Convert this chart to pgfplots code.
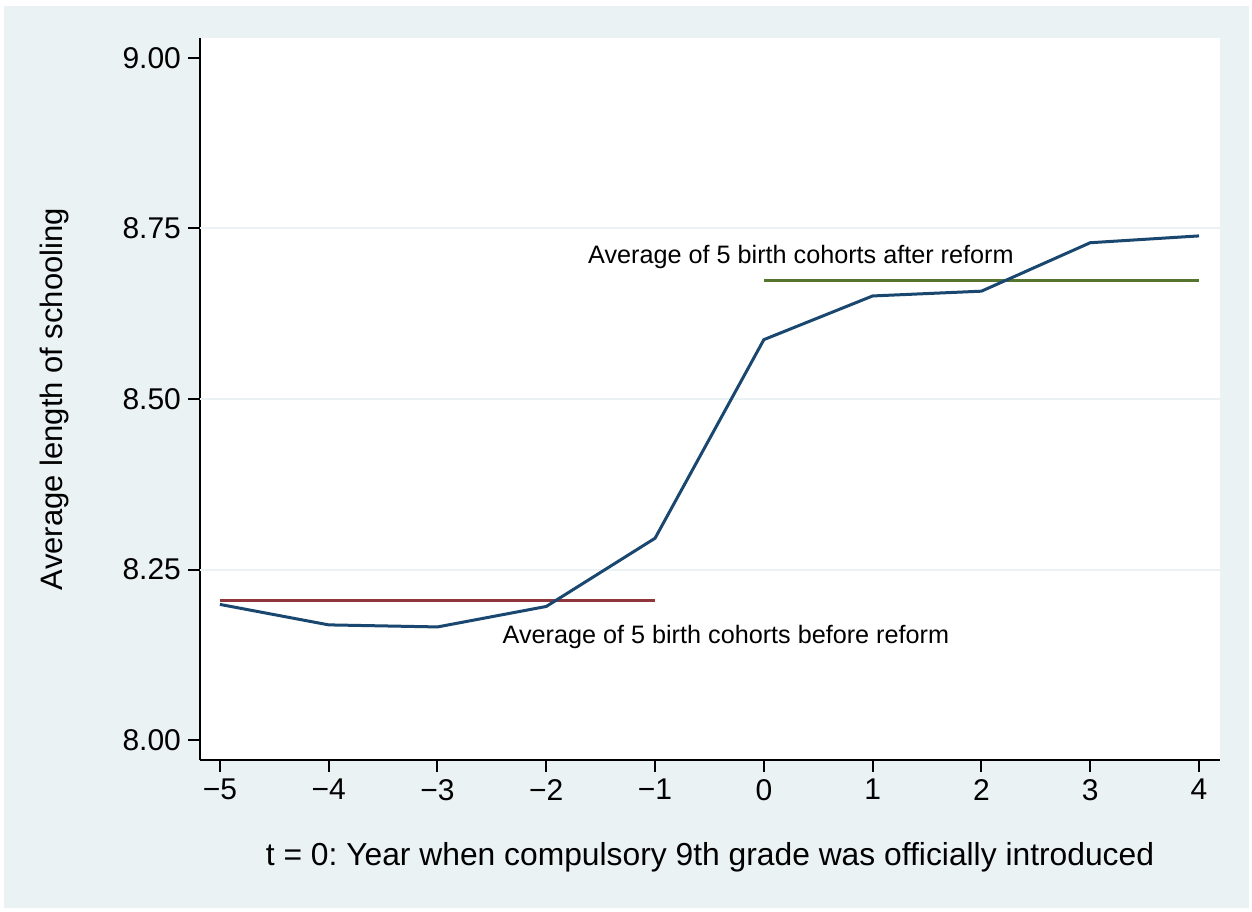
\documentclass[border=0pt]{standalone}
\usepackage{pgfplots}
\pgfplotsset{compat=1.18}
\usepackage{fontspec}
\setmainfont{Liberation Sans}
\frenchspacing
\definecolor{stbg}{RGB}{234,242,243}
\definecolor{stnavy}{RGB}{26,71,111}
\definecolor{stmaroon}{RGB}{144,53,59}
\definecolor{stgreen}{RGB}{85,117,47}

\begin{document}
\begin{tikzpicture}
% picture frame: 1 px of the reference = 0.5pt
\useasboundingbox (-100pt,-75.5pt) rectangle (526pt,380pt);
\fill[white] (-100pt,-75.5pt) rectangle (526pt,380pt);
\fill[stbg] (-98pt,-74pt) rectangle (524.5pt,377pt);
\begin{axis}[
    at={(0,0)}, anchor=south west,
    scale only axis,
    width=510pt, height=361pt,
    xmin=-5.183, xmax=4.193,
    ymin=7.971, ymax=9.029,
    axis background/.style={fill=white},
    axis x line*=bottom, axis y line*=left,
    axis line style={line width=1pt, black, -},
    tick align=outside,
    major tick length=6pt,
    tick style={line width=1pt, black},
    xtick={-5,-4,-3,-2,-1,0,1,2,3,4},
    xticklabels={−5,−4,−3,−2,−1,0,1,2,3,4},
    ytick={8,8.25,8.5,8.75,9},
    yticklabel style={/pgf/number format/.cd, fixed, fixed zerofill, precision=2},
    /pgf/number format/assume math mode=true,
    ticklabel style={font=\fontsize{15}{18}\selectfont},
    extra y ticks={8.25,8.5,8.75},
    extra y tick labels={},
    extra y tick style={grid=major, major tick length=0pt},
    major grid style={line width=1pt, stbg},
    xlabel={t = 0: Year when compulsory 9th grade was officially introduced},
    ylabel={Average length of schooling},
    every axis x label/.style={at={(rel axis cs:0.5,-0.1343)}, anchor=center,
        font=\fontsize{15.9}{18}\selectfont},
    every axis y label/.style={at={(rel axis cs:-0.1422,0.5)}, anchor=center, rotate=90,
        font=\fontsize{15.5}{18}\selectfont},
    clip=false,
]
\addplot[stmaroon, line width=1.5pt] coordinates {(-5,8.205) (-1,8.205)};
\addplot[stgreen, line width=1.5pt] coordinates {(0,8.673) (4,8.673)};
\addplot[stnavy, line width=1.5pt] coordinates {
    (-5,8.199) (-4,8.169) (-3,8.166) (-2,8.196) (-1,8.296)
    (0,8.587) (1,8.651) (2,8.658) (3,8.729) (4,8.739)
};
\node[anchor=west, inner sep=0pt, font=\fontsize{12.6}{15}\selectfont]
    at (axis cs:-2.404,8.151) {Average of 5 birth cohorts before reform};
\node[anchor=west, inner sep=0pt, font=\fontsize{12.6}{15}\selectfont]
    at (axis cs:-1.618,8.708) {Average of 5 birth cohorts after reform};
\end{axis}
\end{tikzpicture}
\end{document}
